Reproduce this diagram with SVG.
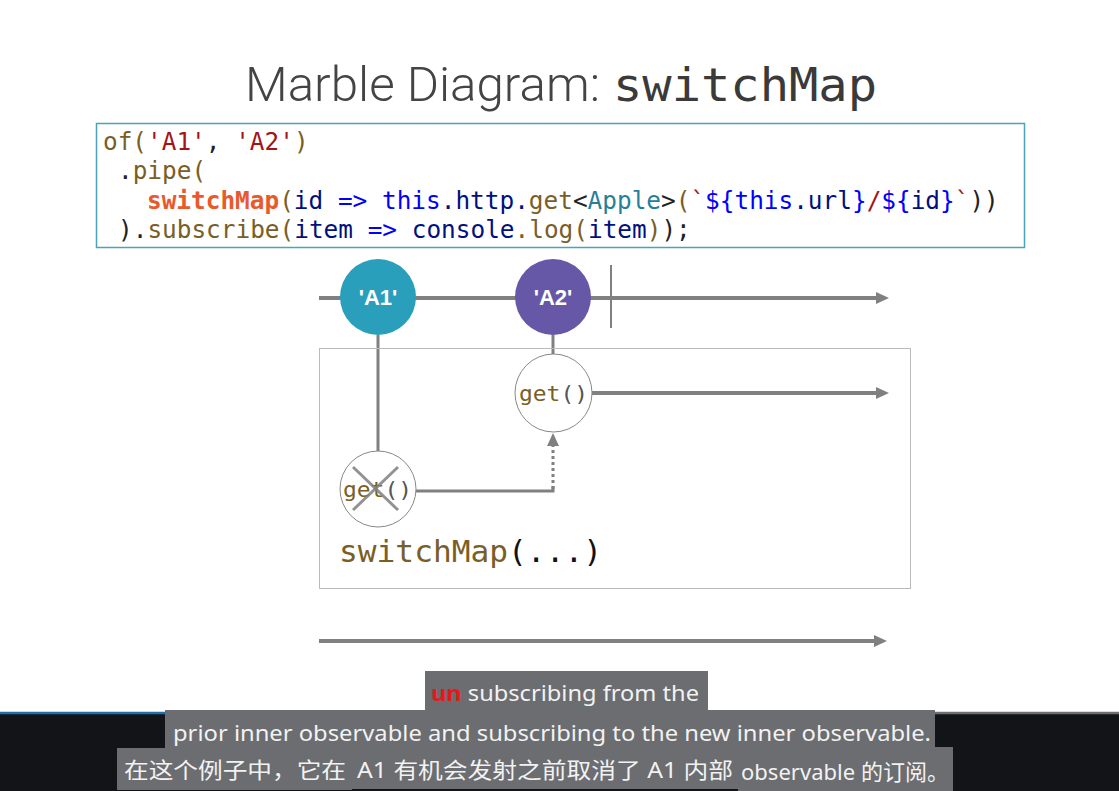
<svg xmlns="http://www.w3.org/2000/svg" width="1119" height="791" viewBox="0 0 1119 791">
<style>
.code{font-family:"DejaVu Sans Mono","Liberation Mono",monospace;font-size:24.4px}
.fn{fill:#795e26}.str{fill:#a31515}.var{fill:#001080}.kw{fill:#0000ff}.ty{fill:#267f99}.pu{fill:#222}
.sm{fill:#e8592b;font-weight:bold}
.line{stroke:#808080;stroke-width:4;fill:none}
.conn{stroke:#808080;stroke-width:3;fill:none}
.head{fill:#808080}
.marble{font-family:"Liberation Sans",Arial,sans-serif;font-weight:bold;font-size:22px;fill:#fff;text-anchor:middle}
.getc{fill:#fff;stroke:#888;stroke-width:1}
.gett{font-family:"DejaVu Sans Mono","Liberation Mono",monospace;font-size:22px}
.sub{font-family:"Noto Sans","Open Sans",sans-serif;font-size:21px;fill:#f2f2f2}
.subcjk{font-family:"Noto Sans","Noto Sans CJK SC",sans-serif;font-size:22px;fill:#f2f2f2}
.box{fill:#6b6d71}
</style>
<rect width="1119" height="791" fill="#fff"/>

<g id="title">
<text x="245" y="101" font-family="Roboto,'Liberation Sans',sans-serif" font-weight="300" font-size="48" fill="#444" textLength="355" lengthAdjust="spacingAndGlyphs">Marble Diagram:</text>
<text x="613" y="101" font-family="'DejaVu Sans Mono','Liberation Mono',monospace" font-size="47" fill="#3a3a3a" textLength="264" lengthAdjust="spacingAndGlyphs">switchMap</text>
</g>

<g id="code">
<rect x="96.5" y="123.5" width="928" height="124" fill="#fff" stroke="#4aa3b8" stroke-width="1.5"/>
<text class="code" x="103" y="150" xml:space="preserve"><tspan class="fn">of(</tspan><tspan class="str">'A1'</tspan><tspan class="pu">, </tspan><tspan class="str">'A2'</tspan><tspan class="fn">)</tspan></text>
<text class="code" x="118" y="179" xml:space="preserve"><tspan class="pu">.</tspan><tspan class="fn">pipe(</tspan></text>
<text class="code" x="147" y="209" xml:space="preserve"><tspan class="sm">switchMap</tspan><tspan class="fn">(</tspan><tspan class="var">id</tspan><tspan class="kw"> =&gt; this</tspan><tspan class="var">.http.</tspan><tspan class="fn">get</tspan><tspan class="pu">&lt;</tspan><tspan class="ty">Apple</tspan><tspan class="pu">&gt;</tspan><tspan class="fn">(</tspan><tspan class="str">`</tspan><tspan class="kw">${this</tspan><tspan class="var">.url</tspan><tspan class="kw">}</tspan><tspan class="str">/</tspan><tspan class="kw">${</tspan><tspan class="var">id</tspan><tspan class="kw">}</tspan><tspan class="str">`</tspan><tspan class="pu">))</tspan></text>
<text class="code" x="118" y="238" xml:space="preserve"><tspan class="pu">).</tspan><tspan class="fn">subscribe(</tspan><tspan class="var">item</tspan><tspan class="kw"> =&gt; </tspan><tspan class="var">console</tspan><tspan class="fn">.log(</tspan><tspan class="var">item</tspan><tspan class="fn">)</tspan><tspan class="pu">);</tspan></text>
</g>

<g id="connectors">
<line class="line" x1="319" y1="298" x2="878" y2="298"/>
<path class="head" d="M876,292 L889,298 L876,304 z"/>
<line x1="611" y1="265" x2="611" y2="328" stroke="#808080" stroke-width="2"/>
<line class="conn" x1="378" y1="335" x2="378" y2="451"/>
<line class="conn" x1="553" y1="335" x2="553" y2="354"/>
<line class="line" x1="592" y1="393" x2="878" y2="393"/>
<path class="head" d="M876,387 L889,393 L876,399 z"/>
<polyline class="conn" points="416,491 553,491 553,486"/>
<line x1="553" y1="489" x2="553" y2="446" stroke="#808080" stroke-width="3" stroke-dasharray="3,3"/>
<path class="head" d="M547,446 L553,433 L559,446 z"/>
<line class="line" x1="319" y1="641" x2="876" y2="641"/>
<path class="head" d="M874,635 L887,641 L874,647 z"/>
</g>

<g id="operator">
<rect x="319.5" y="348.5" width="591" height="240" fill="none" stroke="#bbb" stroke-width="1"/>
<text x="339" y="562" font-family="'DejaVu Sans Mono','Liberation Mono',monospace" font-size="31" textLength="263" lengthAdjust="spacingAndGlyphs"><tspan fill="#795e26">switchMap</tspan><tspan fill="#111">(...)</tspan></text>
</g>

<g id="marbleA1">
<circle cx="378" cy="297" r="38" fill="#2a9fbc"/>
<text class="marble" x="378" y="305">'A1'</text>
</g>
<g id="marbleA2">
<circle cx="553" cy="297" r="38" fill="#6658a6"/>
<text class="marble" x="553" y="305">'A2'</text>
</g>

<g id="getA2">
<ellipse class="getc" cx="553.5" cy="393" rx="38.5" ry="39"/>
<text class="gett" x="519" y="401" textLength="69" lengthAdjust="spacingAndGlyphs"><tspan fill="#795e26">get</tspan><tspan fill="#555">()</tspan></text>
</g>
<g id="getA1">
<ellipse class="getc" cx="378" cy="489" rx="38" ry="38"/>
<text class="gett" x="343" y="497" textLength="69" lengthAdjust="spacingAndGlyphs"><tspan fill="#795e26">get</tspan><tspan fill="#555">()</tspan></text>
<line x1="353" y1="467" x2="398" y2="510" stroke="#808080" stroke-width="3" opacity="0.85"/>
<line x1="398" y1="467" x2="353" y2="510" stroke="#808080" stroke-width="3" opacity="0.85"/>
</g>

<g id="overlay">
<rect x="0" y="713" width="1119" height="78" fill="#121417"/>
<line x1="0" y1="713" x2="166" y2="713" stroke="#1f6fa8" stroke-width="2.5"/>
<line x1="935" y1="713" x2="1119" y2="713" stroke="#6d6f73" stroke-width="2.5"/>
<rect class="box" x="425" y="671" width="283" height="39"/>
<text class="sub" x="431" y="701" textLength="268" lengthAdjust="spacingAndGlyphs"><tspan fill="#e81818" font-weight="bold">un</tspan> subscribing from the</text>
<rect class="box" x="165" y="710" width="770" height="38"/>
<text class="sub" x="173" y="741" textLength="758" lengthAdjust="spacingAndGlyphs">prior inner observable and subscribing to the new inner observable.</text>
<rect class="box" x="117" y="748" width="235" height="42"/>
<text class="subcjk" x="124" y="778" textLength="222" lengthAdjust="spacingAndGlyphs">在这个例子中，它在</text>
<rect class="box" x="352" y="747" width="386" height="42"/>
<text class="subcjk" x="357" y="778" textLength="376" lengthAdjust="spacingAndGlyphs">A1 有机会发射之前取消了 A1 内部</text>
<rect class="box" x="738" y="747" width="215" height="44"/>
<text class="subcjk" x="741" y="780" textLength="208" lengthAdjust="spacingAndGlyphs">observable 的订阅。</text>
</g>
</svg>
